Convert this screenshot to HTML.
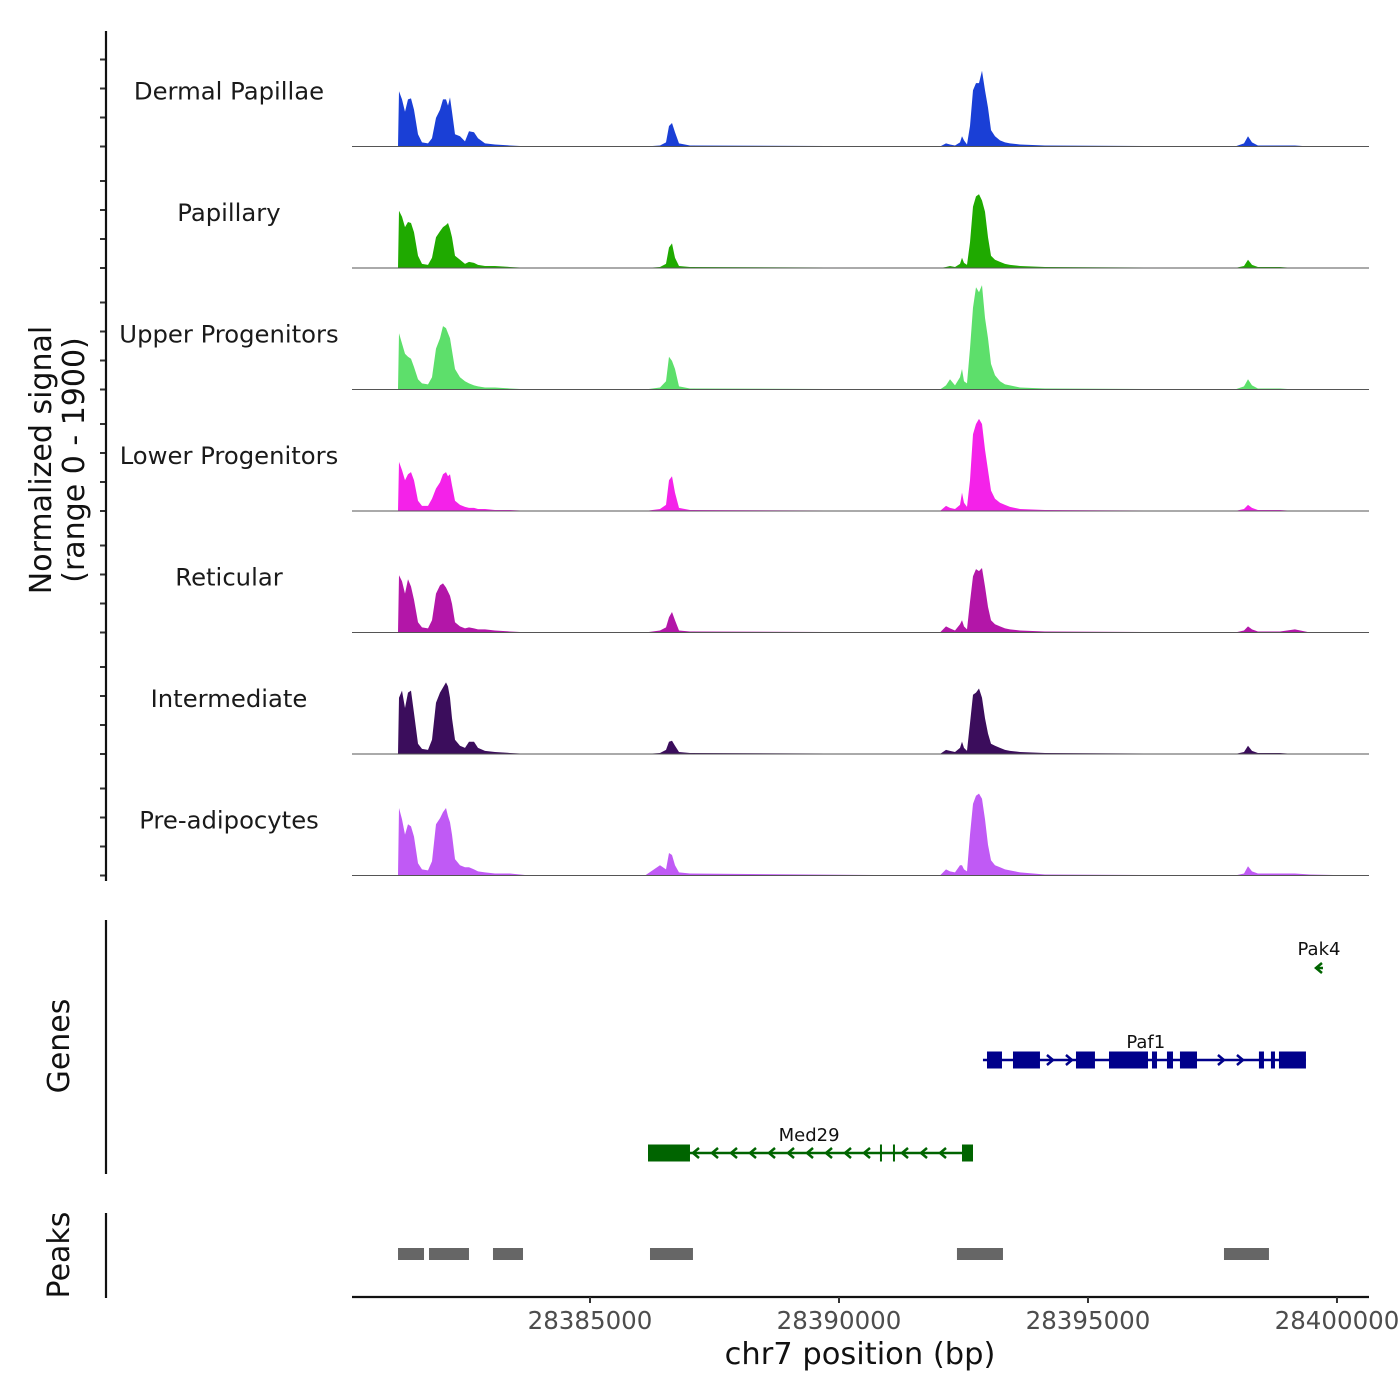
<!DOCTYPE html>
<html><head><meta charset="utf-8"><style>
html,body{margin:0;padding:0;background:#fff;}
svg{display:block;font-family:"DejaVu Sans","Liberation Sans",sans-serif;}
</style></head><body>
<svg id="chart" width="1400" height="1400" viewBox="0 0 1400 1400" xmlns="http://www.w3.org/2000/svg"></svg>
<script>
// ---- data ----
const trackNames = ["Dermal Papillae","Papillary","Upper Progenitors","Lower Progenitors","Reticular","Intermediate","Pre-adipocytes"];
const trackColors = ["#1a3fd6","#1faa00","#5ddf6b","#f422e9","#b316a8","#3b0d5c","#c05af5"];
const positions = [28381145,28381165,28381225,28381285,28381345,28381406,28381466,28381546,28381627,28381747,28381827,28381908,28381988,28382048,28382108,28382149,28382189,28382229,28382289,28382390,28382490,28382570,28382671,28382751,28382892,28383092,28383394,28383795,
28386104,28386406,28386526,28386586,28386647,28386707,28386787,28387008,
28392028,28392148,28392229,28392329,28392430,28392470,28392510,28392570,28392630,28392691,28392751,28392811,28392871,28392932,28392992,28393052,28393132,28393233,28393333,28393434,28393634,28394136,
28397952,28398132,28398213,28398293,28398413,28398855,28399156,28399458,28400400];
const sigDermal = [0,864,736,544,736,752,576,192,64,48,128,448,576,736,736,640,768,544,192,160,80,240,224,128,48,32,16,0,
0,16,64,320,368,224,48,16,
0,48,32,16,64,160,96,32,320,880,992,992,1184,880,608,256,160,96,64,48,32,16,
0,48,160,64,16,16,16,0,0];
const sigPapillary = [0,896,800,640,720,704,560,192,64,48,160,480,576,640,672,704,608,480,192,128,64,96,80,48,32,32,16,0,
0,16,64,320,384,160,32,16,
0,16,32,16,64,160,80,48,400,960,1120,1152,1056,880,480,192,128,96,64,48,32,16,
0,32,128,48,16,16,0,0,0];
const sigUpper = [0,880,720,560,512,480,352,160,96,80,192,640,800,992,960,880,800,608,320,192,128,96,64,48,32,32,16,0,
0,32,128,512,448,320,48,16,
0,64,160,64,192,320,128,96,640,1280,1600,1520,1632,1120,800,400,224,128,80,64,32,16,
0,48,160,64,16,16,0,0,0];
const sigLower = [0,768,640,480,576,608,480,160,80,80,192,352,448,576,608,544,576,400,160,96,64,48,48,32,32,16,16,0,
0,32,96,480,544,288,48,16,
0,80,48,32,96,288,128,64,480,1200,1360,1440,1360,960,640,320,192,128,96,64,32,16,
0,32,96,48,16,16,0,0,0];
const sigReticular = [0,896,800,608,832,720,512,160,80,64,192,608,736,768,704,640,576,448,160,96,64,80,64,48,48,32,16,0,
0,32,80,240,320,192,32,16,
0,96,64,32,128,192,96,48,480,880,992,960,1008,720,400,192,128,96,64,48,32,16,
0,32,96,48,16,16,48,0,0];
const sigIntermediate = [0,880,992,720,960,992,640,160,80,64,224,800,960,1040,1120,1056,880,560,224,128,96,192,192,96,48,32,16,0,
0,16,64,192,208,128,32,16,
0,64,48,32,96,192,96,48,480,928,960,1024,880,560,320,160,128,96,64,48,32,16,
0,32,128,48,16,16,0,0,0];
const sigPreAdipo = [0,1056,880,640,800,768,608,192,96,80,224,800,896,992,1056,928,832,640,256,160,128,128,96,64,48,32,32,0,
0,160,96,352,320,160,48,32,
0,96,64,48,160,160,96,64,640,1120,1248,1280,1200,880,480,240,160,128,96,80,48,16,
0,32,144,64,32,32,32,16,0];
const signals = [sigDermal,sigPapillary,sigUpper,sigLower,sigReticular,sigIntermediate,sigPreAdipo];
const xTicks = [28385000,28390000,28395000,28400000];
const peakStarts = [28381145,28381767,28383052,28386205,28392369,28397731];
const peakEnds   = [28381667,28382570,28383655,28387068,28393293,28398634];
const paf1Span = [28392891,28399377];
const paf1ExonStarts = [28392972,28393494,28394759,28395422,28396285,28396586,28396847,28398433,28398674,28398835];
const paf1ExonEnds   = [28393273,28394036,28395140,28396205,28396386,28396707,28397189,28398534,28398755,28399377];
const med29Span = [28386165,28392671];
const med29ExonStarts = [28386165,28390823,28391084,28392470];
const med29ExonEnds   = [28387008,28390863,28391124,28392691];
const pak4Span = [28399578,28399699];

// ---- scales ----
const X0=352, X1=1369, BP0=28380221, BP1=28400643;
const xs = bp => X0 + (bp-BP0)/(BP1-BP0)*(X1-X0);
const TRACK_H=121.5, FIRST_BASE=146.5, YMAX=1900;
const ys = (v,i) => FIRST_BASE + i*TRACK_H - v/YMAX*TRACK_H;

const svg=document.getElementById('chart');
const NS="http://www.w3.org/2000/svg";
function mk(tag,attrs,parent){const e=document.createElementNS(NS,tag);for(const k in attrs)e.setAttribute(k,attrs[k]);(parent||svg).appendChild(e);return e;}

// tracks
signals.forEach((sig,i)=>{
  const g=mk('g',{});
  
  
  let d='M'+xs(positions[0])+','+ys(0,i);
  positions.forEach((p,j)=>{d+=' L'+xs(p).toFixed(1)+','+ys(sig[j],i).toFixed(1);});
  d+=' L'+xs(positions[positions.length-1])+','+ys(0,i)+'Z';
  const a=mk('path',{d:d,fill:trackColors[i]},g);
  
  
  const bl=mk('line',{x1:X0,x2:X1,y1:ys(0,i),y2:ys(0,i),stroke:'#555','stroke-width':1},g);
  
  
  const t=mk('text',{x:229,y:ys(0,i)-47,'text-anchor':'middle','font-size':24.3,fill:'#1a1a1a'},g);
  t.textContent=trackNames[i];
  
  
  for(let k=0;k<4;k++){
    const ty=ys(0,i)-k*29;
    const tk=mk('line',{x1:100,x2:106,y1:ty,y2:ty,stroke:'#333','stroke-width':2},g);
    
    
  }
});
const ya=mk('line',{x1:106,x2:106,y1:31,y2:881,stroke:'#111','stroke-width':2.2});


const yt=mk('text',{transform:'translate(51,460) rotate(-90)','text-anchor':'middle','font-size':30,fill:'#111'});


yt.innerHTML='<tspan x="0" dy="0">Normalized signal</tspan><tspan x="0" dy="33">(range 0 - 1900)</tspan>';

// genes panel
const ga=mk('line',{x1:106,x2:106,y1:920,y2:1174,stroke:'#111','stroke-width':2.2});


const gt=mk('text',{transform:'translate(69,1046) rotate(-90)','text-anchor':'middle','font-size':30,fill:'#111'});
gt.textContent='Genes';



function drawGene(name,span,starts,ends,y,color,dir,labelX,labelY){
  const g=mk('g',{});
  
  
  mk('line',{x1:xs(span[0]),x2:xs(span[1]),y1:y,y2:y,stroke:color,'stroke-width':2.5},g);
  const a0=xs(span[0])+10, a1=xs(span[1])-10;
  const n=Math.floor((a1-a0)/19);
  for(let k=0;k<=n;k++){
    const ax=a0+k*19;
    const inEx=starts.some((s,j)=>ax>xs(s)-5&&ax<xs(ends[j])+5);
    if(inEx)continue;
    mk('path',{d:dir>0?`M${ax-3},${y-5} L${ax+3},${y} L${ax-3},${y+5}`:`M${ax+3},${y-5} L${ax-3},${y} L${ax+3},${y+5}`,fill:'none',stroke:color,'stroke-width':2.5},g);
  }
  starts.forEach((s,j)=>{
    const r=mk('rect',{x:xs(s),y:y-8.5,width:Math.max(2,xs(ends[j])-xs(s)),height:17,fill:color},g);
    
    
  });
  const t=mk('text',{x:labelX,y:labelY,'text-anchor':'middle','font-size':18,fill:'#111'},g);
  t.textContent=name;
  
  
}
drawGene('Paf1',paf1Span,paf1ExonStarts,paf1ExonEnds,1060,'#00008b',1,xs(28396000)+8,1048);
drawGene('Med29',med29Span,med29ExonStarts,med29ExonEnds,1153,'#006400',-1,xs(28389400),1141);
const pk=mk('g',{});


const px=(xs(pak4Span[0])+xs(pak4Span[1]))/2;
mk('path',{d:`M${px+3},963 L${px-3},968 L${px+3},973 M${px-3},968 L${px+4},968`,fill:'none',stroke:'#006400','stroke-width':2.5},pk);
const pkl=mk('text',{x:px,y:955,'text-anchor':'middle','font-size':18,fill:'#111'},pk);
pkl.textContent='Pak4';



// peaks panel
const pa=mk('line',{x1:106,x2:106,y1:1213,y2:1298,stroke:'#111','stroke-width':2.2});


const pt=mk('text',{transform:'translate(69,1255) rotate(-90)','text-anchor':'middle','font-size':30,fill:'#111'});
pt.textContent='Peaks';


peakStarts.forEach((s,j)=>{
  const r=mk('rect',{x:xs(s),y:1248,width:xs(peakEnds[j])-xs(s),height:12,fill:'#666'});
  
  
});

// x axis
const xa=mk('line',{x1:X0,x2:X1,y1:1297,y2:1297,stroke:'#111','stroke-width':2.2});


xTicks.forEach(v=>{
  const tk=mk('line',{x1:xs(v),x2:xs(v),y1:1297,y2:1303,stroke:'#333','stroke-width':2});
  
  
  const tl=mk('text',{x:xs(v),y:1329,'text-anchor':'middle','font-size':24.5,fill:'#4d4d4d'});
  tl.textContent=String(v);
  
  
});
const xt=mk('text',{x:860,y:1364,'text-anchor':'middle','font-size':30.5,fill:'#111'});
xt.textContent='chr7 position (bp)';


</script>
</body></html>
